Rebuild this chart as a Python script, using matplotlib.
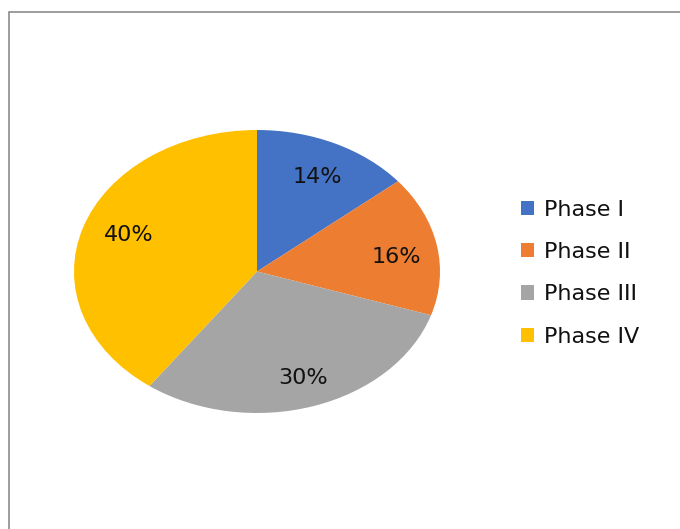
import matplotlib
matplotlib.use('Agg')
import matplotlib.pyplot as plt
from matplotlib.patches import Rectangle

labels = ['Phase I', 'Phase II', 'Phase III', 'Phase IV']
shares = [14, 16, 30, 40]
colors = ['#4472C4', '#ED7D31', '#A5A5A5', '#FFC000']
# label spots inside each slice (data coords of the unit pie)
label_pos = [(0.33, 0.67), (0.76, 0.10), (0.25, -0.75), (-0.70, 0.26)]

W, H = 680, 529
fig = plt.figure(figsize=(W / 100, H / 100), dpi=100)

# outer frame, only top and left edges fall inside the image
fig.patches.append(Rectangle((9 / W, -0.1), 1.2, 1 - 12 / H + 0.1,
                             transform=fig.transFigure, fill=False,
                             edgecolor='#8c8c8c', linewidth=1.2))

ax = fig.add_axes([74 / W, (H - 413) / H, 366 / W, 283 / H])
wedges, texts, autotexts = ax.pie(shares, colors=colors, startangle=90,
                                  counterclock=False, autopct='%d%%',
                                  textprops=dict(fontsize=16, color='#111111',
                                                 family='DejaVu Sans'))
for t, p in zip(autotexts, label_pos):
    t.set_position(p)
ax.set_aspect('auto')
ax.set_xlim(-1, 1)
ax.set_ylim(-1, 1)

fig.legend(wedges, labels, loc='upper left', bbox_to_anchor=(512 / W, 1 - 191 / H),
           frameon=False, handlelength=0.6, handleheight=0.6,
           handletextpad=0.45, labelspacing=1.0, borderaxespad=0,
           prop=dict(family='DejaVu Sans', size=16), labelcolor='#111111')

fig.savefig('out.png', dpi=100)
